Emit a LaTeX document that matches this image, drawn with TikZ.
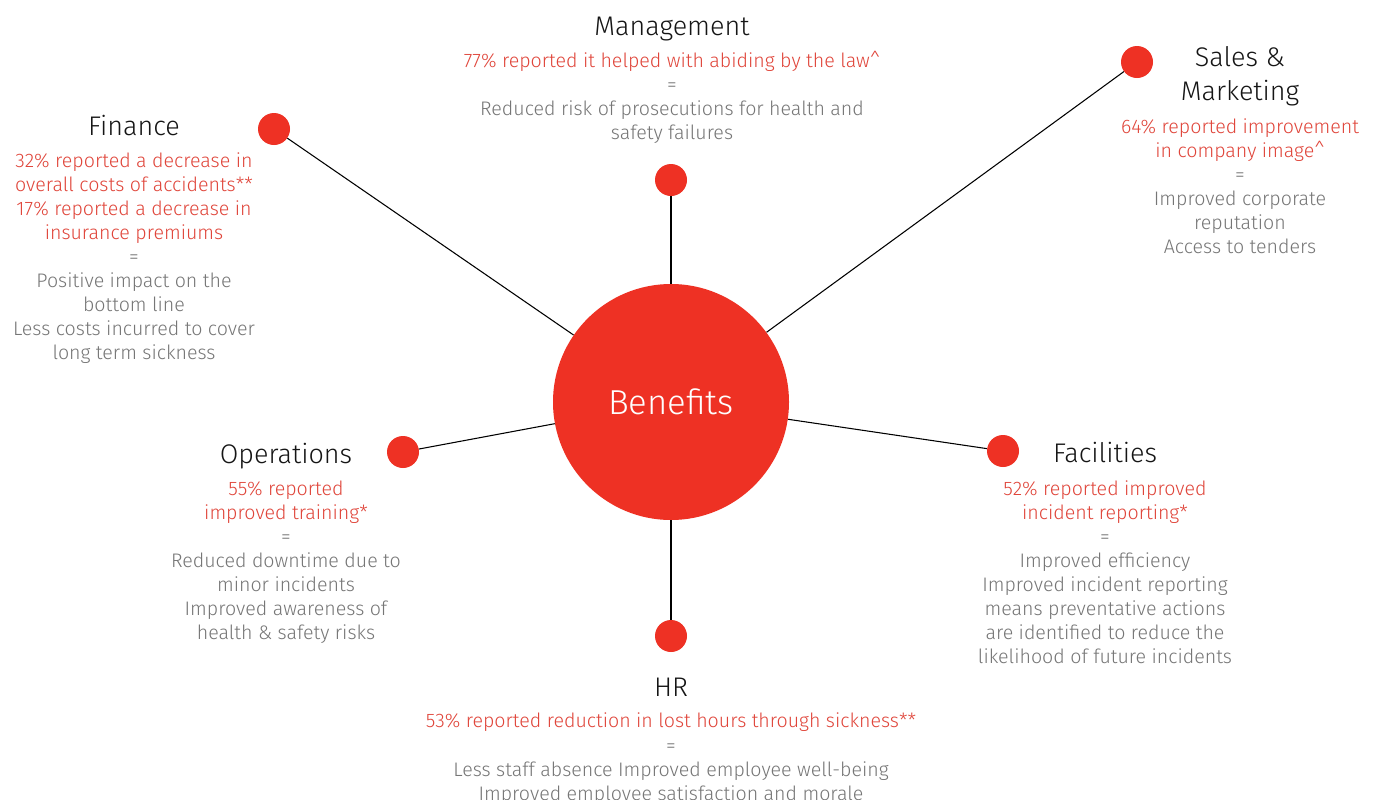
\documentclass[tikz,border=0pt]{standalone}
\usepackage{fontspec}
\setmainfont{Fira Sans Light}
\definecolor{bred}{HTML}{EE3124}
\definecolor{tred}{HTML}{E0453A}
\definecolor{tgrey}{HTML}{767676}
\definecolor{ttitle}{HTML}{151515}
\tikzset{
  hub/.style={circle, fill=bred, minimum size=177pt, inner sep=0pt, text=white, font=\fontsize{26pt}{30pt}\selectfont},
  dot/.style={circle, fill=bred, minimum size=24pt, inner sep=0pt},
  spoke/.style={draw=black, line width=0.8pt},
  ttl/.style={anchor=base, inner sep=0pt, text=ttitle, font=\fontsize{20.2pt}{24pt}\selectfont},
  rl/.style={anchor=base, inner sep=0pt, text=tred, font=\fontsize{14.7pt}{17pt}\selectfont},
  gl/.style={anchor=base, inner sep=0pt, text=tgrey, font=\fontsize{14.7pt}{17pt}\selectfont},
}
\begin{document}
\begin{tikzpicture}[x=0.75pt, y=-0.75pt]
\useasboundingbox[fill=white] (0,0) rectangle (1375,800);
\node[hub] (ben) at (671,402) {Benefits};
\node[dot] (fin) at (274,129) {};
\node[dot] (man) at (671,180) {};
\node[dot] (sal) at (1137,62) {};
\node[dot] (ope) at (403,452) {};
\node[dot] (fac) at (1003,451) {};
\node[dot] (hr) at (671,636) {};
\draw[spoke] (fin) -- (ben);
\draw[spoke] (man) -- (ben);
\draw[spoke] (sal) -- (ben);
\draw[spoke] (ope) -- (ben);
\draw[spoke] (fac) -- (ben);
\draw[spoke] (hr) -- (ben);
% Management
\node[ttl] (manT) at (672,35) {Management};
\node[rl] (manR1) at (672,67) {77\% reported it helped with abiding by the law\^{}};
\node[gl] (manE) at (672,91) {=};
\node[gl] (manG1) at (672,115) {Reduced risk of prosecutions for health and};
\node[gl] (manG2) at (672,139) {safety failures};
% Sales & Marketing
\node[ttl] (salT1) at (1240,66) {Sales \&};
\node[ttl] (salT2) at (1240,100) {Marketing};
\node[rl] (salR1) at (1240,133) {64\% reported improvement};
\node[rl] (salR2) at (1240,157) {in company image\^{}};
\node[gl] (salE) at (1240,181) {=};
\node[gl] (salG1) at (1240,205) {Improved corporate};
\node[gl] (salG2) at (1240,229) {reputation};
\node[gl] (salG3) at (1240,253) {Access to tenders};
% Finance
\node[ttl] (finT) at (134,135) {Finance};
\node[rl] (finR1) at (134,167) {32\% reported a decrease in};
\node[rl] (finR2) at (134,191) {overall costs of accidents**};
\node[rl] (finR3) at (134,215) {17\% reported a decrease in};
\node[rl] (finR4) at (134,239) {insurance premiums};
\node[gl] (finE) at (134,263) {=};
\node[gl] (finG1) at (134,287) {Positive impact on the};
\node[gl] (finG2) at (134,311) {bottom line};
\node[gl] (finG3) at (134,335) {Less costs incurred to cover};
\node[gl] (finG4) at (134,359) {long term sickness};
% Operations
\node[ttl] (opeT) at (286,463) {Operations};
\node[rl] (opeR1) at (286,495) {55\% reported};
\node[rl] (opeR2) at (286,519) {improved training*};
\node[gl] (opeE) at (286,543) {=};
\node[gl] (opeG1) at (286,567) {Reduced downtime due to};
\node[gl] (opeG2) at (286,591) {minor incidents};
\node[gl] (opeG3) at (286,615) {Improved awareness of};
\node[gl] (opeG4) at (286,639) {health \& safety risks};
% Facilities
\node[ttl] (facT) at (1105,462) {Facilities};
\node[rl] (facR1) at (1105,495) {52\% reported improved};
\node[rl] (facR2) at (1105,519) {incident reporting*};
\node[gl] (facE) at (1105,543) {=};
\node[gl] (facG1) at (1105,567) {Improved efficiency};
\node[gl] (facG2) at (1105,591) {Improved incident reporting};
\node[gl] (facG3) at (1105,615) {means preventative actions};
\node[gl] (facG4) at (1105,639) {are identified to reduce the};
\node[gl] (facG5) at (1105,663) {likelihood of future incidents};
% HR
\node[ttl] (hrT) at (671,696) {HR};
\node[rl] (hrR1) at (671,727) {53\% reported reduction in lost hours through sickness**};
\node[gl] (hrE) at (671,752) {=};
\node[gl] (hrG1) at (671,776) {Less staff absence Improved employee well-being};
\node[gl] (hrG2) at (671,800) {Improved employee satisfaction and morale};
\end{tikzpicture}
\end{document}
